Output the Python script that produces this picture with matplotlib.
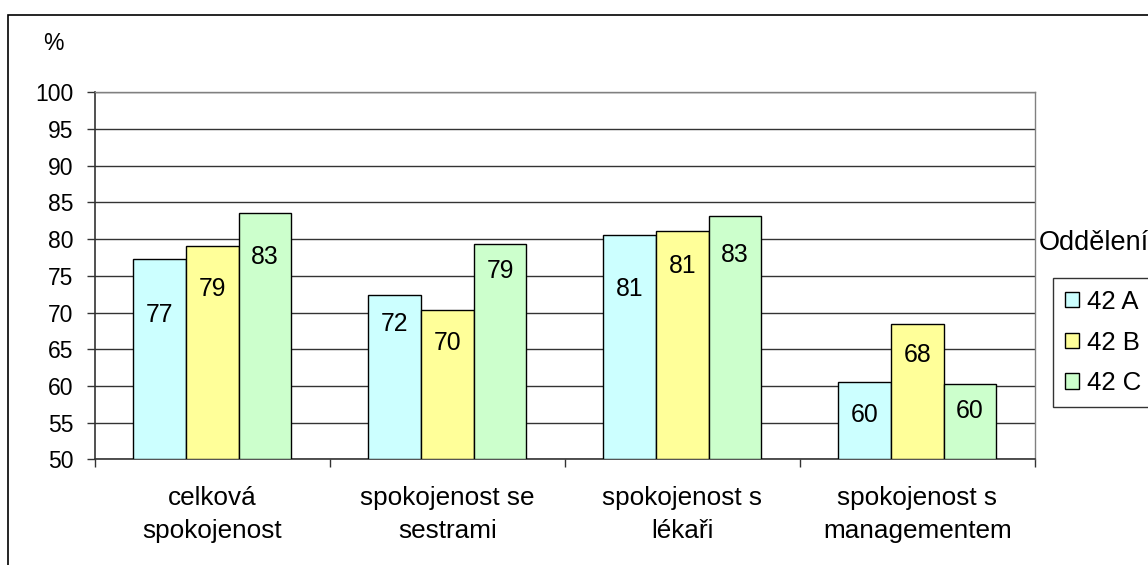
import matplotlib
matplotlib.use("Agg")
import matplotlib.pyplot as plt
from matplotlib.patches import Rectangle
import numpy as np

plt.rcParams['font.family'] = ['Liberation Sans', 'DejaVu Sans']

categories = ["celková\nspokojenost", "spokojenost se\nsestrami",
              "spokojenost s\nlékaři", "spokojenost s\nmanagementem"]
series_names = ["42 A", "42 B", "42 C"]
values_A = [77.3, 72.4, 80.6, 60.5]
values_B = [79.0, 70.3, 81.1, 68.4]
values_C = [83.6, 79.3, 83.1, 60.3]
label_text_A = ["77", "72", "81", "60"]
label_text_B = ["79", "70", "81", "68"]
label_text_C = ["83", "79", "83", "60"]
# vertical placement of the value labels (data units, as in the original)
label_y_A = [69.7, 68.5, 73.2, 56.0]
label_y_B = [73.2, 65.8, 76.4, 64.2]
label_y_C = [77.6, 75.6, 77.9, 56.6]
colors = ["#CCFFFF", "#FFFF99", "#CCFFCC"]
yticks = list(range(50, 101, 5))

W, H = 1148, 565
fig = plt.figure(figsize=(W / 100, H / 100), dpi=100)
ax = fig.add_axes([94.7 / W, 1 - 459.3 / H, (1035 - 94.7) / W, (459.3 - 92.3) / H])

FS_TICK = 16.5
FS_VAL = 17.8
FS_CAT = 18.8
FS_LEG = 18.5
x = np.arange(len(categories))
bw = 0.224
series = [values_A, values_B, values_C]
ltexts = [label_text_A, label_text_B, label_text_C]
lys = [label_y_A, label_y_B, label_y_C]
handles = []
for i, (vals, col) in enumerate(zip(series, colors)):
    pos = x + (i - 1) * bw
    bars = ax.bar(pos, np.array(vals) - 50, bottom=50, width=bw, color=col,
                  edgecolor="black", linewidth=1.0, zorder=3, label=series_names[i])
    handles.append(bars)
    for px, t, ly in zip(pos, ltexts[i], lys[i]):
        ax.text(px, ly, t, ha="center", va="center", fontsize=FS_VAL, zorder=4)

ax.set_xlim(-0.5, len(categories) - 0.5)
ax.set_ylim(50, 100)
ax.set_yticks(yticks)
ax.set_yticklabels([str(v) for v in yticks], fontsize=FS_TICK)
ax.tick_params(axis="y", direction="out", length=6, width=1, pad=9.5, color="#333333")
ax.yaxis.grid(True, color="#333333", linewidth=1.0, zorder=0)
ax.set_axisbelow(True)

ax.set_xticks(x)
ax.set_xticklabels(categories, fontsize=FS_CAT, linespacing=1.5)
ax.tick_params(axis="x", which="major", length=0, pad=19)
ax.set_xticks(np.arange(-0.5, len(categories)), minor=True)
ax.tick_params(axis="x", which="minor", direction="out", length=6, width=1, color="#333333")

for s in ["top", "right"]:
    ax.spines[s].set_color("#808080")
    ax.spines[s].set_linewidth(1.0)
ax.spines["left"].set_color("#333333")
ax.spines["bottom"].set_color("#333333")
ax.spines["left"].set_linewidth(1.2)
ax.spines["bottom"].set_linewidth(1.2)

fig.text(53.5 / W, 1 - 44 / H, "%", fontsize=FS_TICK, ha="center", va="center")

# outer chart frame (extends past the right and bottom edges, as in the original)
fig.patches.append(Rectangle((8.3 / W, -0.05), 1.2, 1 - 15 / H + 0.05,
                             transform=fig.transFigure, fill=False,
                             edgecolor="black", linewidth=1.2))

fig.text(1039 / W, 1 - 243 / H, "Oddělení", fontsize=19.5, ha="left", va="center")
leg = fig.legend(handles=handles, labels=series_names, loc="upper left",
                 bbox_to_anchor=(1053.3 / W, 1 - 278.3 / H), fontsize=FS_LEG,
                 frameon=True, fancybox=False, edgecolor="black",
                 handlelength=0.545, handleheight=0.545, handletextpad=0.31,
                 labelspacing=0.65, borderpad=0.45, borderaxespad=0)
leg.get_frame().set_linewidth(1.0)

fig.savefig("out.png", dpi=100)
